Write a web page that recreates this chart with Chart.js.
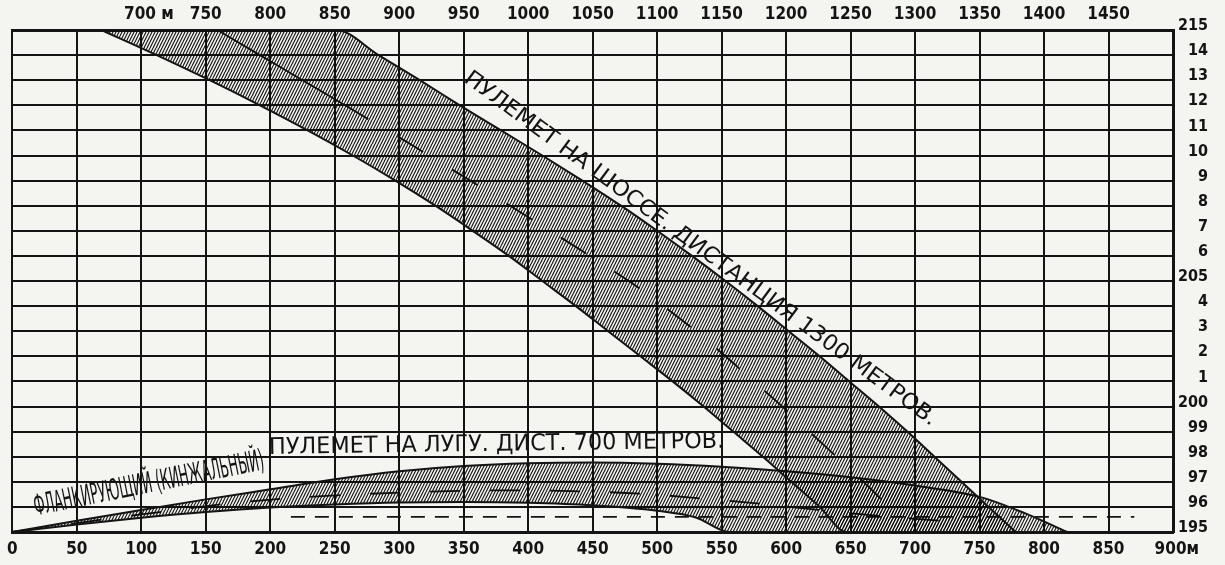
<!DOCTYPE html>
<html><head><meta charset="utf-8">
<script src="https://cdn.jsdelivr.net/npm/chart.js@4.4.0/dist/chart.umd.min.js"></script>
<style>
html,body{margin:0;padding:0;background:#f4f4f1;}
#wrap{width:1225px;height:565px;}
</style></head><body>
<div id="wrap"><canvas id="c" width="1225" height="565"></canvas></div>
<script>
// ---------- tick labels ----------
const bottomTickValues = [0,50,100,150,200,250,300,350,400,450,500,550,600,650,700,750,800,850,900];
const bottomTickLabels = ['0','50','100','150','200','250','300','350','400','450','500','550','600','650','700','750','800','850','\u2002900м'];
const topTickValues = [700,750,800,850,900,950,1000,1050,1100,1150,1200,1250,1300,1350,1400,1450];
const topTickLabels = ['\u2003700 м','750','800','850','900','950','1000','1050','1100','1150','1200','1250','1300','1350','1400','1450'];
const rightTickValues = [195,196,197,198,199,200,201,202,203,204,205,206,207,208,209,210,211,212,213,214,215];
const rightTickLabels = ['195','96','97','98','99','200','1','2','3','4','205','6','7','8','9','10','11','12','13','14','215'];

// ---------- band 1: machine gun on the highway, 1300 m ----------
const band1UpperM = [69, 251, 284, 316, 347, 379, 411, 442, 472, 500, 527, 553, 578, 602, 626, 649, 672, 694, 715, 736, 757, 778];
const band1UpperH = [215, 215, 214, 213, 212, 211, 210, 209, 208, 207, 206, 205, 204, 203, 202, 201, 200, 199, 198, 197, 196, 195];
const band1LowerM = [69, 112, 153, 192, 229, 264, 297, 328, 357, 385, 411, 437, 462, 487, 512, 536, 559, 582, 604, 626, 647, 778];
const band1LowerH = [215, 214, 213, 212, 211, 210, 209, 208, 207, 206, 205, 204, 203, 202, 201, 200, 199, 198, 197, 196, 195, 195];
const band1MidSolidM = [159, 192, 225, 258, 276];
const band1MidSolidH = [215, 214, 213, 212, 211.45];
const band1MidDashM = [276, 291, 323, 355, 386, 417, 448, 478, 505, 530, 553, 575, 597, 618, 639, 660, 680, 687];
const band1MidDashH = [211.45, 211, 210, 209, 208, 207, 206, 205, 204, 203, 202, 201, 200, 199, 198, 197, 196, 195.7];

// ---------- band 2: flanking machine gun on the meadow, 700 m ----------
const band2UpperM = [0, 50, 100, 150, 200, 250, 300, 350, 400, 450, 500, 550, 600, 650, 700, 750, 785, 818];
const band2UpperH = [195, 195.45, 195.88, 196.3, 196.7, 197.1, 197.42, 197.63, 197.74, 197.77, 197.72, 197.6, 197.42, 197.18, 196.85, 196.4, 195.75, 195];
const band2LowerM = [0, 50, 100, 150, 200, 250, 300, 350, 400, 450, 500, 530, 556, 818];
const band2LowerH = [195, 195.3, 195.57, 195.8, 195.98, 196.1, 196.18, 196.2, 196.17, 196.07, 195.85, 195.58, 195, 195];
const band2MidM = [0, 100, 180, 240, 320, 380, 440, 490, 535, 575, 625, 670, 720];
const band2MidH = [195, 195.7, 196.2, 196.43, 196.6, 196.66, 196.62, 196.52, 196.33, 196.15, 195.88, 195.65, 195.45];
const groundLineM = [216, 870];
const groundLineH = [195.6, 195.6];

// ---------- texts ----------
const label1Text = 'ПУЛЕМЕТ НА ШОССЕ. ДИСТАНЦИЯ 1300 МЕТРОВ.';
const label1From = [352, 213.15];
const label1To = [715, 199.4];
const label2aText = 'ФЛАНКИРУЮЩИЙ (КИНЖАЛЬНЫЙ)';
const label2aFrom = [17, 195.95];
const label2aTo = [195, 197.8];
const label2bText = 'ПУЛЕМЕТ НА ЛУГУ. ДИСТ. 700 МЕТРОВ.';
const label2bFrom = [199, 198.35];
const label2bTo = [552, 198.6];

const pts = (ms, hs) => ms.map((m, i) => ({x: m, y: hs[i]}));

// hatch pattern
function makeHatch() {
  const pc = document.createElement('canvas');
  pc.width = 3; pc.height = 6;
  const g = pc.getContext('2d');
  g.strokeStyle = 'rgba(10,10,10,0.95)';
  g.lineWidth = 1.2;
  g.beginPath();
  for (let k = -1; k <= 1; k++) {
    g.moveTo(k*3, 6); g.lineTo(k*3 + 3, 0);
  }
  g.stroke();
  return g.createPattern(pc, 'repeat');
}
const hatch = makeHatch();

const INK = '#141414';
const FONT = '"DejaVu Sans Condensed", "DejaVu Sans", sans-serif';

const lineDs = (data, extra) => Object.assign({
  data, borderColor: INK, borderWidth: 2, pointRadius: 0, fill: false,
  cubicInterpolationMode: 'monotone'
}, extra);

const datasets = [
  lineDs(pts(band1UpperM, band1UpperH), {}),                                          // 0 band1 upper
  lineDs(pts(band1LowerM, band1LowerH), {fill: {target: 0}, backgroundColor: hatch}), // 1 band1 lower
  lineDs(pts(band1MidSolidM, band1MidSolidH), {borderWidth: 1.8}),
  lineDs(pts(band1MidDashM, band1MidDashH), {borderWidth: 1.8, borderDash: [30, 34], borderDashOffset: 30}),
  lineDs(pts(band2UpperM, band2UpperH), {}),                                          // 4 band2 upper
  lineDs(pts(band2LowerM, band2LowerH), {fill: {target: 4}, backgroundColor: hatch}), // 5 band2 lower
  lineDs(pts(band2MidM, band2MidH), {borderWidth: 1.8, borderDash: [30, 30]}),
  lineDs(pts(groundLineM, groundLineH), {borderWidth: 1.8, borderDash: [14, 10], cubicInterpolationMode: 'default'})
];

const textLabels = [
  {text: label1Text, from: label1From, to: label1To, size: 22},
  {text: label2aText, from: label2aFrom, to: label2aTo, size: 29},
  {text: label2bText, from: label2bFrom, to: label2bTo, size: 23}
];

const bgPlugin = {
  id: 'bg',
  beforeDraw(chart) {
    const c = chart.ctx;
    c.save(); c.fillStyle = '#f4f4f1'; c.fillRect(0, 0, chart.width, chart.height); c.restore();
  }
};
const textPlugin = {
  id: 'texts',
  afterDatasetsDraw(chart) {
    const {ctx} = chart; const sx = chart.scales.x, sy = chart.scales.y;
    for (const t of textLabels) {
      const x1 = sx.getPixelForValue(t.from[0]), y1 = sy.getPixelForValue(t.from[1]);
      const x2 = sx.getPixelForValue(t.to[0]), y2 = sy.getPixelForValue(t.to[1]);
      const ang = Math.atan2(y2 - y1, x2 - x1);
      const len = Math.hypot(x2 - x1, y2 - y1);
      ctx.save();
      ctx.font = `${t.size}px ${FONT}`;
      const w = ctx.measureText(t.text).width;
      ctx.translate((x1 + x2) / 2, (y1 + y2) / 2);
      ctx.rotate(ang);
      ctx.scale(len / w, 1);
      ctx.textAlign = 'center'; ctx.textBaseline = 'middle';
      ctx.fillStyle = INK;
      ctx.fillText(t.text, 0, 0);
      ctx.restore();
    }
  }
};

const tickFont = {family: FONT, size: 17, weight: 'bold'};

new Chart(document.getElementById('c'), {
  type: 'line',
  data: {datasets},
  options: {
    responsive: false, animation: false, devicePixelRatio: 1,
    layout: {padding: {left: 11, right: 17, top: 0, bottom: 0}},
    plugins: {legend: {display: false}, tooltip: {enabled: false}},
    scales: {
      x: {
        type: 'linear', position: 'bottom', min: 0, max: 900,
        afterBuildTicks: s => { s.ticks = bottomTickValues.map(v => ({value: v})); },
        afterFit: s => { s.height = 33; },
        ticks: {
          font: tickFont, color: INK, padding: 7, maxRotation: 0, autoSkip: false,
          callback: (v) => bottomTickLabels[bottomTickValues.indexOf(v)]
        },
        grid: {color: INK, lineWidth: 2, drawTicks: false},
        border: {display: true, color: INK, width: 3}
      },
      x2: {
        type: 'linear', position: 'top', min: 600, max: 1500,
        afterBuildTicks: s => { s.ticks = topTickValues.map(v => ({value: v})); },
        afterFit: s => { s.height = 30; },
        ticks: {
          font: tickFont, color: INK, padding: 5, maxRotation: 0, autoSkip: false,
          callback: (v) => topTickLabels[topTickValues.indexOf(v)]
        },
        grid: {display: false, drawTicks: false},
        border: {display: true, color: INK, width: 3}
      },
      y: {
        type: 'linear', position: 'right', min: 195, max: 215,
        afterBuildTicks: s => { s.ticks = rightTickValues.map(v => ({value: v})); },
        afterFit: s => { s.width = 35; },
        ticks: {
          font: {family: FONT, size: 16, weight: 'bold'}, color: INK, padding: 5,
          crossAlign: 'far', labelOffset: -4, autoSkip: false,
          callback: (v) => rightTickLabels[rightTickValues.indexOf(v)]
        },
        grid: {color: INK, lineWidth: 2, drawTicks: false},
        border: {display: true, color: INK, width: 3}
      }
    }
  },
  plugins: [bgPlugin, textPlugin]
});
</script>
</body></html>
